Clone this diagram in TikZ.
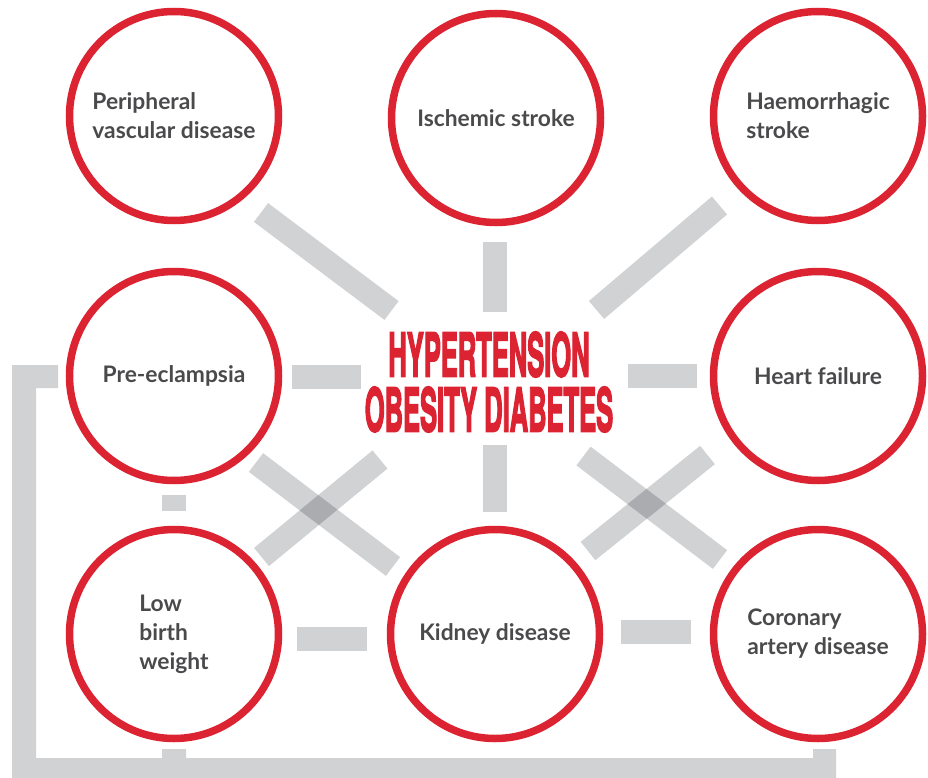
\documentclass[tikz,border=0pt]{standalone}
\usepackage{fontspec}
\setmainfont{Lato}
\newfontfamily\headfont{TeX Gyre Heros}
\usetikzlibrary{positioning}
\definecolor{ringred}{HTML}{DC2332}
\definecolor{txtgray}{HTML}{4A4A4C}
\definecolor{bargray}{HTML}{D1D2D4}
% heavier, narrow heading
\newcommand{\headline}[1]{\special{pdf:literal 2 Tr 2.2 w}\scalebox{0.425}[1]{#1}\special{pdf:literal 0 Tr}}
\tikzset{
	ring/.style = {
		circle,
		draw = ringred,
		line width = 7.5pt,
		minimum size = 209pt,
		inner sep = 0pt,
		text = txtgray,
		align = left,
		font = \bfseries\fontsize{22.8}{29}\selectfont
	},
	link/.style = {
		line width = 23.5pt,
		draw = bargray,
		blend mode = multiply
	},
	block/.style = {
		fill = bargray
	},
	core/.style = {
		text = ringred,
		align = center,
		inner sep = 0pt,
		font = \headfont\bfseries\fontsize{60}{55}\selectfont
	}
}

\begin{document}
\begin{tikzpicture}[x=1pt, y=-1pt]
		\useasboundingbox (0,0) rectangle (928,778);
		% bracket round the left and the bottom
		\fill[block] (12,365) -- (58,365) -- (58,388) -- (36,388) -- (36,758) -- (162,758) -- (162,749) -- (186,749) -- (186,758)
			-- (813,758) -- (813,749) -- (836,749) -- (836,778) -- (12,778) -- cycle;
		\fill[block] (162,495) rectangle (186,511);
		
		% links
		\draw[link] (261,212.5) -- (391.5,310.5);
		\draw[link] (719.5,205.5) -- (596.5,310);
		\draw[link] (495,242) -- (495,312);
		\draw[link] (292,377) -- (361,377);
		\draw[link] (628,376) -- (697,376);
		\draw[link] (495,445) -- (495,512);
		\draw[link] (256,462.5) -- (393,566.5);
		\draw[link] (380,459.5) -- (261.5,557);
		\draw[link] (583.5,456) -- (720,559.5);
		\draw[link] (707.5,455) -- (588,551);
		\draw[link] (297,639) -- (367,639);
		\draw[link] (621,632) -- (691,632);
		
		\node[core] (core) at (489,382) {\headline{HYPERTENSION} \\ \headline{OBESITY DIABETES}};
		
		\node[ring] (pvd) at (174,116) {Peripheral \\ vascular disease};
		\node[ring] (isc) at (496,118) {Ischemic stroke};
		\node[ring] (hae) at (818,116) {Haemorrhagic \\ stroke};
		\node[ring] (pre) at (174,376) {Pre-eclampsia};
		\node[ring] (hf) at (818,376) {Heart failure};
		\node[ring] (lbw) at (174,634) {Low \\ birth \\ weight};
		\node[ring] (kid) at (495,634) {Kidney disease};
		\node[ring] (cad) at (818,634) {Coronary \\ artery disease};
	\end{tikzpicture}
\end{document}
